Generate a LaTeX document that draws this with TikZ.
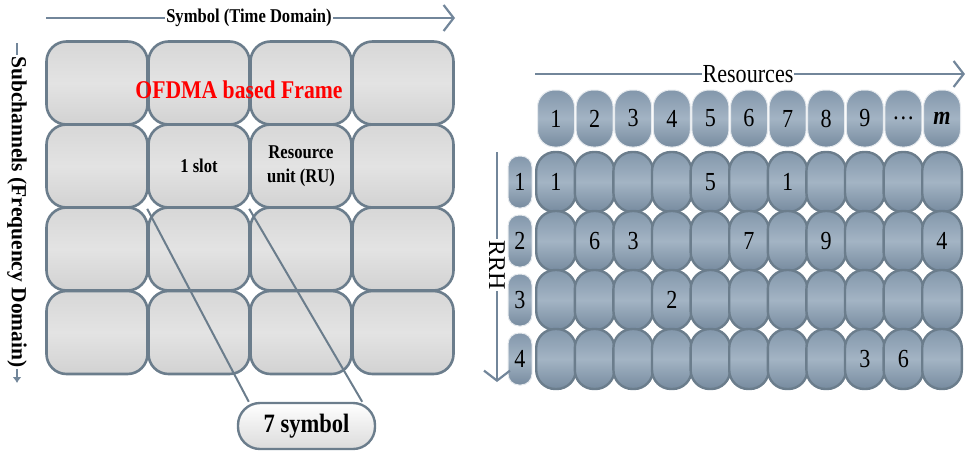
\documentclass[tikz,border=0pt]{standalone}
\usepackage{fontspec}
\setmainfont{Liberation Serif}
\newfontfamily\cond{Liberation Serif}[FakeStretch=0.85]
\usetikzlibrary{arrows.meta,calc}
\definecolor{edgec}{HTML}{6B7D8C}
\definecolor{axisc}{HTML}{72869A}
\definecolor{lgtop}{HTML}{D7D7D7}
\definecolor{lgmid}{HTML}{E3E3E3}
\definecolor{lgbot}{HTML}{D2D2D2}
\definecolor{btop}{HTML}{8397AB}
\definecolor{bmid}{HTML}{A3B4C4}
\definecolor{bbot}{HTML}{778B9F}
\newcommand{\mydots}{\ldots}
\tikzset{
  lcell/.style={draw=edgec, line width=2.6pt, rounded corners=20pt, minimum width=101pt, minimum height=83pt, inner sep=0pt,
    shade, top color=lgtop, bottom color=lgbot, middle color=lgmid},
  ltext/.style={font=\cond\bfseries\fontsize{19.5}{24}\selectfont, align=center},
  hpill/.style={draw=white!80!btop, line width=1pt, rounded corners=17pt, minimum width=37pt, minimum height=57pt, inner sep=0pt,
    shade, top color=btop, bottom color=bbot, middle color=bmid, font=\cond\fontsize{26}{28}\selectfont},
  rcell/.style={draw=edgec, line width=2.4pt, rounded corners=19pt, minimum width=39.6pt, minimum height=60pt, inner sep=0pt,
    shade, top color=btop, bottom color=bbot, middle color=bmid},
  rlab/.style={draw=white!80!btop, line width=1pt, rounded corners=11pt, minimum width=24pt, minimum height=52pt, inner sep=0pt,
    shade, top color=btop, bottom color=bbot, middle color=bmid, font=\cond\fontsize{26}{28}\selectfont},
  num/.style={font=\cond\fontsize{26}{28}\selectfont, inner sep=0pt},
  axis/.style={draw=axisc, line width=2.8pt, -{Straight Barb[length=10pt, width=26pt, line width=2.2pt]}},
  conn/.style={draw=edgec, line width=2pt},
  symbox/.style={draw=edgec, line width=2.4pt, rounded corners=22pt, minimum width=137pt, minimum height=46pt, inner sep=0pt,
    shade, top color=white, bottom color=black!14, font=\cond\bfseries\fontsize{26.5}{28}\selectfont}
}
\begin{document}
\begin{tikzpicture}[x=1pt,y=-1pt]
\useasboundingbox (0,0) rectangle (965,450);
% ---------- left: OFDMA frame ----------
\coordinate (ta) at (46,18);
\coordinate (tb) at (455,18);
\draw[axis] (ta) -- (tb);
\node[fill=white, inner sep=1pt, font=\cond\bfseries\fontsize{19.5}{22}\selectfont] (tlab) at (249,18) {Symbol (Time Domain)};

\coordinate (sa) at (17,43);
\coordinate (sb) at (17,383);
\draw[draw=axisc, line width=2pt, -{Latex[length=6pt,width=9pt]}] (sa) -- (sb);
\node[fill=white, inner sep=1pt, rotate=-90, font=\bfseries\fontsize{21.5}{24}\selectfont] (slab) at (17,212) {Subchannels (Frequency Domain)};

\foreach \r/\y in {1/83,2/166,3/249,4/332.5}{
  \foreach \c/\x in {1/97,2/199,3/301,4/403}{
    \node[lcell] (c\r\c) at (\x,\y) {};
  }
}
\node[ltext] (slot) at (c22) {1 slot};
\node[ltext] (ru) at (c23) {Resource\\unit (RU)};
\node[font=\cond\bfseries\fontsize{25.5}{28}\selectfont, text=red] (ofdma) at (239,90) {OFDMA based Frame};

\node[symbox] (sym) at (306.5,426) {7 symbol};
\draw[conn] (c22.south west) -- ($(sym.north west)+(12,0)$);
\draw[conn] (c23.south west) -- ($(sym.north east)+(-14,0)$);

% ---------- right: resource allocation ----------
\coordinate (ra) at (535,74);
\coordinate (rb) at (965,74);
\draw[axis] (ra) -- (rb);
\node[fill=white, inner sep=1pt, font=\cond\fontsize{26}{28}\selectfont] (rlabel) at (748,74) {Resources};

\foreach \c/\t in {1/1,2/2,3/3,4/4,5/5,6/6,7/7,8/8,9/9,10/{\mydots},11/{\textbf{\textit{m}}}}{
  \node[hpill] (h\c) at ({556+38.6*(\c-1)},118.5) {\t};
}
\foreach \r in {1,2,3,4}{
  \foreach \c in {1,2,3,4,5,6,7,8,9,10,11}{
    \node[rcell] (g-\r-\c) at ({556+38.6*(\c-1)},{182+59*(\r-1)}) {};
  }
  \node[rlab] (rl\r) at (520,{182+59*(\r-1)}) {\r};
}
\foreach \r/\c/\n in {1/1/1,1/5/5,1/7/1,2/2/6,2/3/3,2/6/7,2/8/9,2/11/4,3/4/2,4/9/3,4/10/6}{
  \node[num] at (g-\r-\c) {\n};
}

\coordinate (qa) at (497,152);
\coordinate (qb) at (497,382);
\draw[axis] (qa) -- (qb);
\node[fill=white, inner sep=1pt, rotate=-90, font=\fontsize{24}{26}\selectfont] (rrh) at (497,265) {RRH};
\end{tikzpicture}
\end{document}
